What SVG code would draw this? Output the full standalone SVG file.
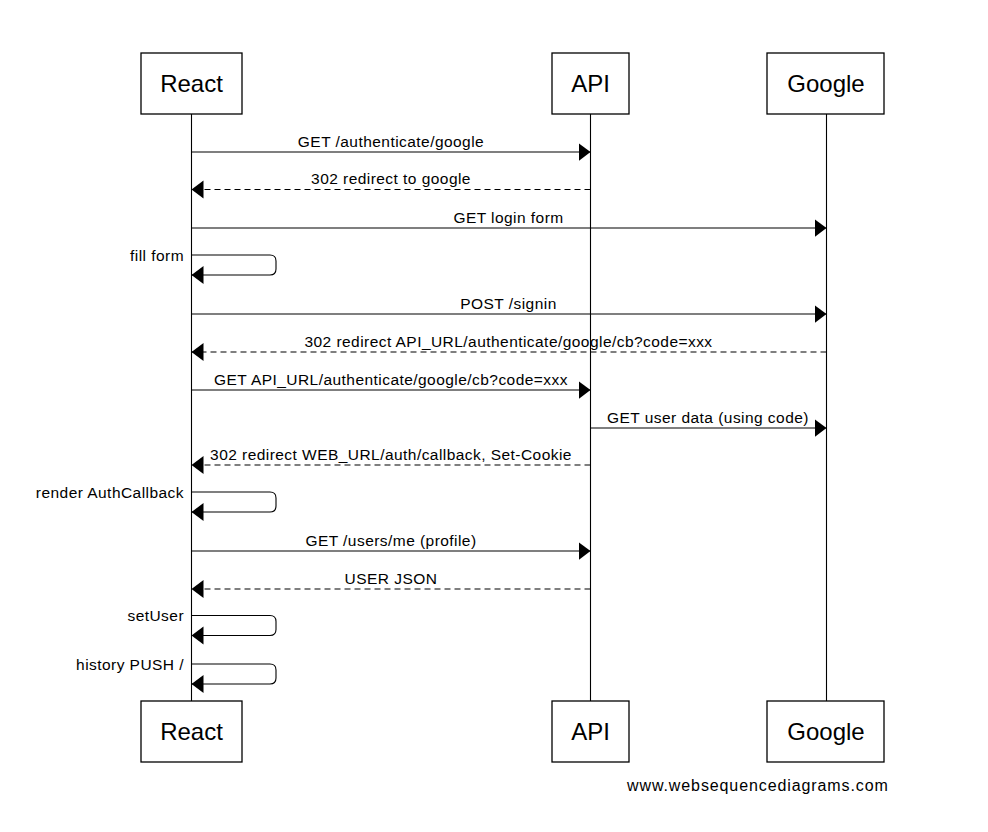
<svg xmlns="http://www.w3.org/2000/svg" width="988" height="832" viewBox="0 0 988 832">
<defs>
<marker id="ah" markerUnits="userSpaceOnUse" markerWidth="13" markerHeight="20" refX="12" refY="9" orient="auto" viewBox="0 0 13 20">
<path d="M0,0 L12,9 L0,18 Z" fill="#000"/>
</marker>
<style>
.box{fill:#fff;stroke:#000;stroke-width:1.3}
.life{stroke:#000;stroke-width:1.1}
.pt{font-family:"Liberation Sans",Arial,sans-serif;font-size:24px;fill:#000;text-anchor:middle}
.m{stroke:#000;stroke-width:1.1;fill:none;marker-end:url(#ah)}
.d{stroke-dasharray:6,4}
.t{font-family:"Liberation Sans",Arial,sans-serif;font-size:15.5px;letter-spacing:0.45px;fill:#000;text-anchor:middle}
.r{text-anchor:end}
.f{font-family:"Liberation Sans",Arial,sans-serif;font-size:16px;letter-spacing:0.9px;fill:#000}
</style>
</defs>
<rect width="988" height="832" fill="#fff"/>
<g id="lifelines">
<line class="life" x1="191.5" y1="114" x2="191.5" y2="701"/>
<line class="life" x1="590.5" y1="114" x2="590.5" y2="701"/>
<line class="life" x1="826.5" y1="114" x2="826.5" y2="701"/>
</g>
<g id="react-top"><rect class="box" x="141" y="53" width="101" height="61"/><text class="pt" x="191.5" y="92">React</text></g>
<g id="api-top"><rect class="box" x="552" y="53" width="77" height="61"/><text class="pt" x="590.5" y="92">API</text></g>
<g id="google-top"><rect class="box" x="767" y="53" width="117" height="61"/><text class="pt" x="826" y="92">Google</text></g>
<g id="react-bottom"><rect class="box" x="141" y="701" width="101" height="61"/><text class="pt" x="191.5" y="740">React</text></g>
<g id="api-bottom"><rect class="box" x="552" y="701" width="77" height="61"/><text class="pt" x="590.5" y="740">API</text></g>
<g id="google-bottom"><rect class="box" x="767" y="701" width="117" height="61"/><text class="pt" x="826" y="740">Google</text></g>
<g id="connectors">
<line class="m" x1="191.5" y1="152" x2="590.5" y2="152"/>
<line class="m d" x1="590.5" y1="189.5" x2="191.5" y2="189.5"/>
<line class="m" x1="191.5" y1="228" x2="826.5" y2="228"/>
<path class="m" d="M191.5,255 H270 Q276,255 276,261 V269 Q276,275 270,275 H191.5"/>
<line class="m" x1="191.5" y1="314" x2="826.5" y2="314"/>
<line class="m d" x1="826.5" y1="352" x2="191.5" y2="352"/>
<line class="m" x1="191.5" y1="390" x2="590.5" y2="390"/>
<line class="m" x1="590.5" y1="428" x2="826.5" y2="428"/>
<line class="m d" x1="590.5" y1="465" x2="191.5" y2="465"/>
<path class="m" d="M191.5,492 H270 Q276,492 276,498 V506 Q276,512 270,512 H191.5"/>
<line class="m" x1="191.5" y1="551" x2="590.5" y2="551"/>
<line class="m d" x1="590.5" y1="589" x2="191.5" y2="589"/>
<path class="m" d="M191.5,615.5 H270 Q276,615.5 276,621.5 V629.5 Q276,635.5 270,635.5 H191.5"/>
<path class="m" d="M191.5,664 H270 Q276,664 276,670 V678 Q276,684 270,684 H191.5"/>
</g>
<g id="labels">
<text class="t" x="391" y="147">GET /authenticate/google</text>
<text class="t" x="391" y="184">302 redirect to google</text>
<text class="t" x="508.5" y="223">GET login form</text>
<text class="t r" x="184" y="261">fill form</text>
<text class="t" x="508.5" y="309">POST /signin</text>
<text class="t" x="508.5" y="347">302 redirect API_URL/authenticate/google/cb?code=xxx</text>
<text class="t" x="391" y="385">GET API_URL/authenticate/google/cb?code=xxx</text>
<text class="t" x="708" y="423">GET user data (using code)</text>
<text class="t" x="391" y="460">302 redirect WEB_URL/auth/callback, Set-Cookie</text>
<text class="t r" x="184" y="498">render AuthCallback</text>
<text class="t" x="391" y="546">GET /users/me (profile)</text>
<text class="t" x="391" y="584">USER JSON</text>
<text class="t r" x="184" y="621">setUser</text>
<text class="t r" x="184" y="670">history PUSH /</text>
<text class="f" x="627" y="791">www.websequencediagrams.com</text>
</g>
</svg>
